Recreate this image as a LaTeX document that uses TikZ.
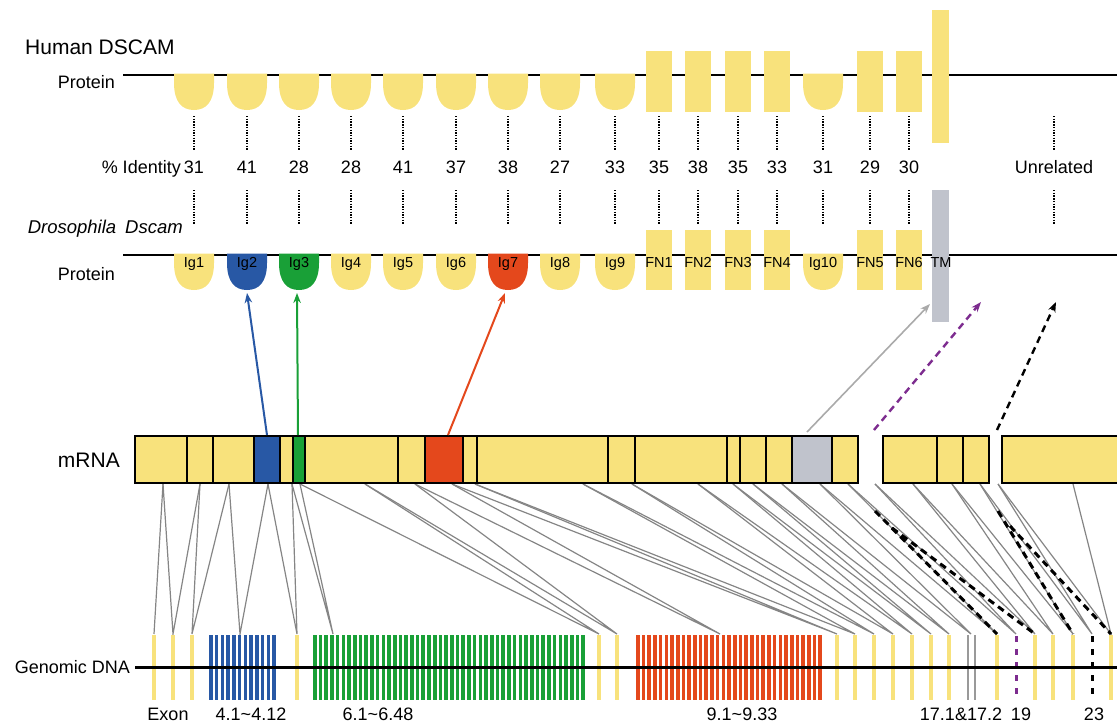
\documentclass[tikz,border=0pt]{standalone}
\usepackage{fontspec}
\setmainfont{Liberation Sans}
\usetikzlibrary{arrows.meta}
\definecolor{dyel}{HTML}{F8E27C}
\definecolor{dblue}{HTML}{2858A5}
\definecolor{dgreen}{HTML}{19A037}
\definecolor{dred}{HTML}{E4481C}
\definecolor{dtm}{HTML}{C0C3CC}
\definecolor{lgray}{HTML}{858585}
\definecolor{agray}{HTML}{AAAAAA}
\definecolor{dpurple}{HTML}{7D2C8F}
\newcommand\igbowl[3]{\fill[#3] ({#1-20},{#2-1.3}) -- ({#1+20},{#2-1.3}) -- ({#1+20},{#2+8}) .. controls ({#1+20},{#2+27}) and ({#1+12},{#2+35}) .. (#1,{#2+35}) .. controls ({#1-12},{#2+35}) and ({#1-20},{#2+27}) .. ({#1-20},{#2+8}) -- cycle;}
\tikzset{
  lbl/.style={font=\fontsize{18}{20}\selectfont, inner sep=0pt, anchor=base},
  domlbl/.style={font=\fontsize{14.5}{16}\selectfont, inner sep=0pt, anchor=base},
  dotl/.style={line width=2pt, dash pattern=on 1.4pt off 1.3pt},
  protline/.style={line width=2.2pt},
  conn/.style={draw=lgray, line width=1.2pt},
  arr/.style={line width=2pt, -{Stealth[length=10pt,width=7.5pt]}},
  dasharr/.style={line width=2.4pt, dash pattern=on 7pt off 5pt, -{Stealth[length=10pt,width=7.5pt]}},
  blkdash/.style={line width=3pt, dash pattern=on 7pt off 5pt},
  mbox/.style={line width=1.8pt},
  exonbar/.style={fill=dyel}
}
\begin{document}
\begin{tikzpicture}[x=1pt,y=-1pt]
\useasboundingbox (0,0) rectangle (1117,723);

% ---------- Human DSCAM ----------
\node[lbl, anchor=base west, font=\fontsize{21}{23}\selectfont] (hum) at (25,54) {Human DSCAM};
\node[lbl, anchor=base east] (hprot) at (115,88) {Protein};
\coordinate (hl0) at (123,75); \coordinate (hl1) at (1117,75);
\draw[protline] (hl0) -- (hl1);
\foreach \x in {194,247,299,351,403,456,508,560,615,823} {\igbowl{\x}{75}{dyel}}
\foreach \x in {659,698,738,777,870,909} {\fill[dyel] (\x-13,51) rectangle (\x+13,112);}
\fill[dyel] (932,10) rectangle (949,143);

% dotted lines and identities
\foreach \x in {194,247,299,351,403,456,508,560,615,659,698,738,777,823,870,909,1054} {
  \draw[dotl] (\x,116) -- (\x,150);
  \draw[dotl] (\x,190) -- (\x,225);
}
\foreach \x/\n [count=\i] in {194/31,247/41,299/28,351/28,403/41,456/37,508/38,560/27,615/33,659/35,698/38,738/35,777/33,823/31,870/29,909/30} {
  \node[lbl] (id\i) at (\x,173) {\n};
}
\node[lbl, anchor=base east] (idl) at (181,173) {\% Identity};
\node[lbl] (unrel) at (1054,173) {Unrelated};

% ---------- Drosophila Dscam ----------
\node[lbl, anchor=base east, font=\fontsize{18.5}{20}\selectfont] (dro) at (183,233) {\textit{Drosophila}\hspace{9pt}\textit{Dscam}};
\node[lbl, anchor=base east] (dprot) at (115,280) {Protein};
\coordinate (dl0) at (123,255); \coordinate (dl1) at (1117,255);
\draw[protline] (dl0) -- (dl1);
\foreach \x/\c/\l in {194/dyel/Ig1,247/dblue/Ig2,299/dgreen/Ig3,351/dyel/Ig4,403/dyel/Ig5,456/dyel/Ig6,508/dred/Ig7,560/dyel/Ig8,615/dyel/Ig9,823/dyel/Ig10} {
  \igbowl{\x}{255}{\c}
  \node[domlbl] (d\l) at (\x,267) {\l};
}
\foreach \x/\l in {659/FN1,698/FN2,738/FN3,777/FN4,870/FN5,909/FN6} {
  \fill[dyel] (\x-13,230) rectangle (\x+13,290);
  \node[domlbl] (d\l) at (\x,267) {\l};
}
\fill[dtm] (932,190) rectangle (949,322);
\node[domlbl] (dTM) at (941,267) {TM};

% ---------- connectors mRNA -> genomic ----------
\foreach \i/\px in {1/163,2/200,3/229,4/268,5/292,6/300,7/365,8/415,9/452,10/475,11/583,12/632,13/698,14/733,15/753,16/782,17/820,18/848,19/875,20/913,21/952,22/980,23/998,24/1073} {
  \coordinate (p\i) at (\px,484);
}
\foreach \i/\gx in {1/154,2/173,3/192,4/240,5/297,6/333,7/599,8/617,9/720,10/837,11/855,12/874,13/893,14/912,15/931,16/949,17/971,18/997,19/1016,20/1035,21/1053,22/1073,23/1092,24/1111} {
  \coordinate (g\i) at (\gx,634);
}
\draw[conn] (g1) -- (p1);
\foreach \i [evaluate=\i as \j using int(\i-1)] in {2,...,24} {
  \draw[conn] (p\j) -- (g\i) -- (p\i);
}
% skipped-exon dashed lines
\coordinate (s1a) at (875,511); \coordinate (s1b) at (892,528);
\coordinate (s2a) at (998,511); \coordinate (s2b) at (1010,526);
\draw[blkdash] (s1a) -- (g18);
\draw[blkdash] (s1b) -- (g20);
\draw[blkdash] (s2a) -- (g22);
\draw[blkdash] (s2b) -- (g24);

% ---------- mRNA ----------
\node[lbl, anchor=base east, font=\fontsize{21}{23}\selectfont] (mrna) at (120,467) {mRNA};
\fill[dyel] (135,436) rectangle (858,483);
\fill[dyel] (883,436) rectangle (989,483);
\fill[dyel] (1002,436) rectangle (1125,483);
\fill[dblue] (254,436) rectangle (280,483);
\fill[dgreen] (293,436) rectangle (305,483);
\fill[dred] (425,436) rectangle (463,483);
\fill[dtm] (792,436) rectangle (832,483);
\foreach \x in {187,213,254,280,293,305,398,425,463,477,608,635,727,740,766,792,832,937,963} {
  \draw[mbox] (\x,436) -- (\x,483);
}
\draw[mbox] (135,436) rectangle (858,483);
\draw[mbox] (883,436) rectangle (989,483);
\draw[mbox] (1125,436) -- (1002,436) -- (1002,483) -- (1125,483);

% ---------- arrows mRNA -> protein ----------
\coordinate (ab0) at (267,435); \coordinate (ab1) at (247,293);
\coordinate (ag0) at (298,435); \coordinate (ag1) at (297,293);
\coordinate (ar0) at (448,435); \coordinate (ar1) at (505,293);
\coordinate (at0) at (807,432); \coordinate (at1) at (930,304);
\coordinate (ap0) at (874,430); \coordinate (ap1) at (981,302);
\coordinate (ak0) at (997,430); \coordinate (ak1) at (1056,302);
\draw[arr, dblue] (ab0) -- (ab1);
\draw[arr, dgreen] (ag0) -- (ag1);
\draw[arr, dred] (ar0) -- (ar1);
\draw[arr, agray, line width=1.6pt] (at0) -- (at1);
\draw[dasharr, dpurple] (ap0) -- (ap1);
\draw[dasharr, black] (ak0) -- (ak1);

% ---------- Genomic DNA ----------
\foreach \x in {154,173,192,297,599,617,837,855,874,893,912,931,949,997,1035,1053,1073,1111} {
  \fill[exonbar] (\x-1.6,635) rectangle (\x+1.6,700);
}
\foreach \i in {0,...,11} {\fill[dblue] ({209+\i*5.76},635) rectangle ({212.6+\i*5.76},700);}
\foreach \i in {0,...,47} {\fill[dgreen] ({313+\i*5.71},635) rectangle ({316.6+\i*5.71},700);}
\foreach \i in {0,...,32} {\fill[dred] ({636+\i*5.7},635) rectangle ({639.6+\i*5.7},700);}
\fill[gray!80] (966.8,635) rectangle (969.3,700);
\fill[gray!80] (973.7,635) rectangle (976.2,700);
\draw[dpurple, line width=3pt, dash pattern=on 6pt off 7pt] (1016,636) -- (1016,700);
\draw[black, line width=3pt, dash pattern=on 6pt off 7pt] (1092,636) -- (1092,700);
\coordinate (dna0) at (135,667); \coordinate (dna1) at (1117,667);
\draw[line width=3pt] (dna0) -- (dna1);
\node[lbl, anchor=base east] (gdna) at (130,673) {Genomic DNA};
\node[lbl] (lex) at (168,720) {Exon};
\node[lbl] (l4) at (251,720) {4.1\textasciitilde 4.12};
\node[lbl] (l6) at (378,720) {6.1\textasciitilde 6.48};
\node[lbl] (l9) at (742,720) {9.1\textasciitilde 9.33};
\node[lbl] (l17) at (961,720) {17.1\&17.2};
\node[lbl] (l19) at (1021,720) {19};
\node[lbl] (l23) at (1094,720) {23};
\end{tikzpicture}
\end{document}
